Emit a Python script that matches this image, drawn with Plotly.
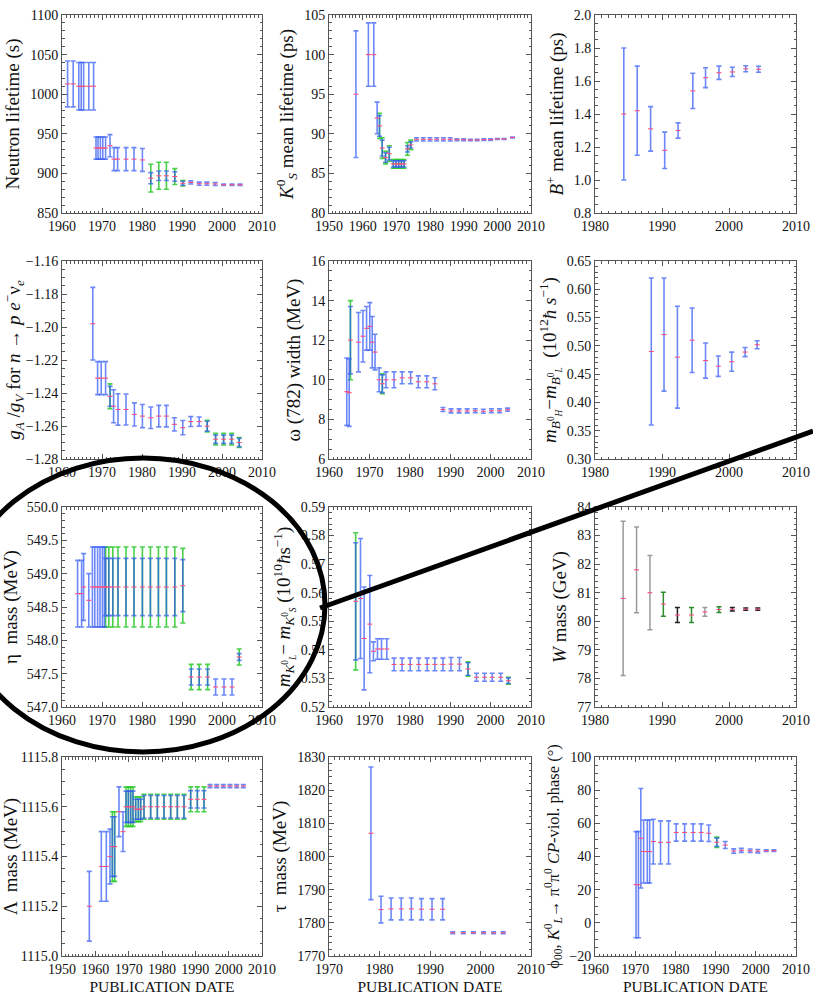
import plotly.graph_objects as go

# ---------------------------------------------------------------- data
# Neutron lifetime (s)
neutron_year = [1961.4, 1962.8, 1964.2, 1964.8, 1965.4, 1966.7, 1967.9, 1968.5, 1969.0, 1969.6,
                1970.2, 1970.9, 1972.0, 1973.0, 1973.9, 1976.0, 1978.0, 1980.1, 1982.2, 1984.2,
                1986.1, 1988.2, 1990.2, 1992.2, 1994.3, 1996.2, 1998.3, 2000.4, 2002.5, 2004.5]
neutron_val = [1013, 1013, 1010, 1010, 1010, 1010, 1010, 932, 932, 932,
               932, 932, 935, 918, 918, 918, 918, 917, 894, 897,
               897, 896, 887.5, 888.6, 887.0, 887.0, 886.7, 885.7, 885.7, 885.7]
neutron_err = [29, 29, 30, 30, 30, 30, 30, 14, 14, 14,
               14, 14, 14, 14.5, 14.5, 14.5, 14.5, 14.5, 7, 6,
               6, 6, 2.5, 2, 2, 2, 1.9, 0.8, 0.8, 0.8]
neutron_err_s = [0] * 18 + [17.5, 17, 17, 10, 3.5] + [0] * 7

# K0_S mean lifetime (ps)
ks_year = [1958.0, 1961.7, 1963.3, 1964.3, 1965.0, 1965.8, 1966.8, 1967.9, 1969.1, 1969.9,
           1970.7, 1971.5, 1972.3, 1973.3, 1974.3, 1976, 1978, 1980, 1982, 1984,
           1986, 1988, 1990, 1992, 1994, 1996, 1998, 2000, 2002, 2004.5]
ks_val = [95, 100, 100, 92, 91, 88.2, 87.0, 87.5, 86.2, 86.2,
          86.2, 86.2, 86.2, 88.1, 88.6, 89.3, 89.3, 89.3, 89.3, 89.3,
          89.3, 89.26, 89.26, 89.22, 89.22, 89.26, 89.26, 89.35, 89.35, 89.53]
ks_err = [8, 4, 4, 2, 1.3, 1.0, 0.6, 0.8, 0.4, 0.4,
          0.4, 0.4, 0.4, 0.4, 0.4, 0.2, 0.2, 0.2, 0.2, 0.2,
          0.2, 0.12, 0.12, 0.1, 0.1, 0.1, 0.1, 0.06, 0.06, 0.05]
ks_err_s = [0, 0, 0, 0, 1.6, 1.3, 0.8, 1.0, 0.55, 0.55,
            0.55, 0.55, 0.55, 0.8, 0.6] + [0] * 15

# B+ mean lifetime (ps)
bp_year = [1984.3, 1986.3, 1988.3, 1990.4, 1992.4, 1994.6, 1996.5, 1998.5, 2000.5, 2002.5, 2004.4]
bp_val = [1.40, 1.42, 1.31, 1.18, 1.30, 1.54, 1.62, 1.65, 1.655, 1.674, 1.671]
bp_err = [0.40, 0.27, 0.135, 0.11, 0.046, 0.107, 0.06, 0.04, 0.028, 0.018, 0.018]

# gA/gV for neutron beta decay
ga_year = [1967.7, 1968.9, 1969.8, 1970.9, 1972.0, 1972.9, 1974.0, 1976.0, 1978.1, 1980.1,
           1982.2, 1984.2, 1986.1, 1988.1, 1990.2, 1992.2, 1994.3, 1996.3, 1998.4, 2000.4,
           2002.4, 2004.3]
ga_val = [-1.198, -1.231, -1.231, -1.231, -1.242, -1.248, -1.250, -1.250, -1.253, -1.254,
          -1.255, -1.254, -1.254, -1.259, -1.261, -1.2573, -1.2573, -1.2601, -1.268, -1.268,
          -1.268, -1.270]
ga_err = [0.022, 0.010, 0.010, 0.010, 0.006, 0.010, 0.0095, 0.0094, 0.007, 0.007,
          0.0065, 0.0065, 0.0065, 0.004, 0.0043, 0.003, 0.0028, 0.003, 0.0025, 0.0025,
          0.0025, 0.0025]
ga_err_s = [0, 0, 0, 0, 0.0075] + [0] * 12 + [0.0035, 0.0035, 0.0035, 0.0035, 0.003]

# omega(782) width (MeV)
om_year = [1964.4, 1965.0, 1965.3, 1967.3, 1968.4, 1969.3, 1970.1, 1970.7, 1971.4, 1972.4,
           1973.2, 1974.1, 1976.1, 1978.1, 1980.2, 1982.1, 1984.2, 1986.2, 1988.2, 1990.2,
           1992.2, 1994.2, 1996.2, 1998.2, 2000.2, 2002.2, 2004.2]
om_val = [9.4, 9.35, 12.0, 11.9, 12.2, 12.6, 12.7, 11.9, 11.4, 10.0,
          9.8, 10.0, 10.0, 10.1, 10.1, 9.9, 9.9, 9.8, 8.5, 8.43,
          8.43, 8.43, 8.44, 8.41, 8.44, 8.44, 8.49]
om_err = [1.7, 1.7, 1.7, 1.5, 1.3, 1.1, 1.2, 1.3, 0.9, 0.6,
          0.45, 0.4, 0.4, 0.3, 0.3, 0.3, 0.3, 0.3, 0.1, 0.1,
          0.1, 0.1, 0.1, 0.1, 0.1, 0.1, 0.08]
om_err_s = [0, 0, 2.0] + [0] * 7 + [0.5] + [0] * 16

# B0 mass difference (10^12 hbar/s)
bd_year = [1988.4, 1990.3, 1992.3, 1994.5, 1996.5, 1998.4, 2000.4, 2002.4, 2004.2]
bd_val = [0.49, 0.52, 0.48, 0.51, 0.474, 0.464, 0.472, 0.489, 0.502]
bd_err = [0.13, 0.10, 0.09, 0.057, 0.031, 0.018, 0.017, 0.008, 0.007]

# eta mass (MeV)
eta_year = [1963.9, 1964.9, 1965.4, 1966.7, 1967.6, 1968.2, 1968.9, 1969.5, 1970.1, 1970.6,
            1970.9, 1971.7, 1972.7, 1974.0, 1976.0, 1978.0, 1980.1, 1982.1, 1984.1, 1986.1,
            1988.2, 1990.2, 1992.3, 1994.3, 1996.4, 1998.4, 2000.5, 2002.5, 2004.3]
eta_val = [548.7, 548.7, 548.8, 548.6, 548.8, 548.8, 548.8, 548.8, 548.8, 548.8,
           548.8, 548.8, 548.8, 548.8, 548.8, 548.8, 548.8, 548.8, 548.8, 548.8,
           548.8, 548.82, 547.45, 547.45, 547.45, 547.3, 547.3, 547.3, 547.75]
eta_err = [0.5, 0.5, 0.5, 0.4, 0.6, 0.6, 0.6, 0.6, 0.6, 0.6,
           0.43, 0.43, 0.43, 0.43, 0.43, 0.43, 0.43, 0.43, 0.43, 0.43,
           0.43, 0.39, 0.12, 0.12, 0.12, 0.12, 0.12, 0.12, 0.05]
eta_err_s = [0] * 10 + [0.6] * 11 + [0.56, 0.19, 0.19, 0.19, 0, 0, 0, 0.12]

# K0 mass difference (10^10 hbar/s)
kd_year = [1966.6, 1967.8, 1968.7, 1970.1, 1971.0, 1972.0, 1973.0, 1974.3, 1976.1, 1978.1,
           1980.1, 1982.2, 1984.3, 1986.2, 1988.2, 1990.2, 1992.3, 1994.4, 1996.5, 1998.5,
           2000.4, 2002.5, 2004.4]
kd_val = [0.557, 0.558, 0.544, 0.549, 0.5395, 0.5403, 0.5403, 0.5403, 0.5349, 0.5349,
          0.5349, 0.5349, 0.5349, 0.5349, 0.5349, 0.535, 0.535, 0.5333, 0.5304, 0.5304,
          0.5304, 0.5304, 0.5292]
kd_err = [0.0205, 0.021, 0.018, 0.017, 0.0033, 0.0036, 0.0036, 0.0036, 0.0022, 0.0022,
          0.0022, 0.0022, 0.0022, 0.0022, 0.0022, 0.0023, 0.0023, 0.0022, 0.0014, 0.0014,
          0.0014, 0.0014, 0.001]
kd_err_s = [0.024] + [0] * 16 + [0.0025] + [0] * 4 + [0.0012]

# W mass (GeV)
w_year = [1984.2, 1986.2, 1988.2, 1990.2, 1992.3, 1994.4, 1996.4, 1998.5, 2000.5, 2002.5, 2004.3]
w_val = [80.8, 81.8, 81.0, 80.6, 80.22, 80.22, 80.33, 80.41, 80.42, 80.423, 80.425]
w_err = [2.7, 1.5, 1.3, 0.42, 0.26, 0.26, 0.15, 0.10, 0.06, 0.039, 0.038]

# Lambda mass (MeV)
lam_year = [1958.2, 1961.8, 1963.3, 1964.4, 1965.1, 1965.8, 1967.1, 1968.3, 1969.2, 1969.9,
            1970.6, 1971.3, 1972.1, 1972.9, 1973.6, 1974.6, 1976.6, 1978.6, 1980.6, 1982.6,
            1984.6, 1986.6, 1988.6, 1990.6, 1992.6, 1994.4, 1996.4, 1998.4, 2000.4, 2002.4,
            2004.4]
lam_val = [1115.20, 1115.36, 1115.36, 1115.40, 1115.44, 1115.44, 1115.58, 1115.50, 1115.60, 1115.60,
           1115.60, 1115.60, 1115.59, 1115.59, 1115.59, 1115.60, 1115.60, 1115.60, 1115.60, 1115.60,
           1115.60, 1115.60, 1115.63, 1115.63, 1115.63, 1115.683, 1115.683, 1115.683, 1115.683, 1115.683,
           1115.683]
lam_err = [0.14, 0.14, 0.14, 0.11, 0.12, 0.12, 0.10, 0.08, 0.063, 0.063,
           0.063, 0.063, 0.04, 0.04, 0.04, 0.045, 0.045, 0.045, 0.045, 0.045,
           0.045, 0.045, 0.035, 0.035, 0.035, 0.006, 0.006, 0.006, 0.006, 0.006,
           0.006]
lam_err_s = [0, 0, 0, 0, 0.14, 0.14, 0, 0, 0.079, 0.079,
             0.079, 0.079, 0.05, 0.05, 0.05, 0.05, 0.05, 0.05, 0.05, 0.05,
             0.05, 0.05, 0.05, 0.05, 0.05] + [0] * 6

# tau mass (MeV)
tau_year = [1978.3, 1980.3, 1982.3, 1984.3, 1986.3, 1988.3, 1990.4, 1992.5, 1994.5, 1996.6,
            1998.6, 2000.6, 2002.6, 2004.5]
tau_val = [1807, 1784.0, 1784.2, 1784.2, 1784.2, 1784.1, 1784.1, 1784.1, 1777.0, 1777.0,
           1777.05, 1776.99, 1776.99, 1776.99]
tau_err = [20, 4, 3.3, 3.3, 3.3, 3.2, 3.2, 3.2, 0.3, 0.3, 0.28, 0.28, 0.29, 0.29]

# phi_00 CP-violating phase (degrees)
phi_year = [1970.2, 1970.8, 1971.4, 1972.1, 1973.0, 1973.6, 1974.5, 1976.3, 1978.3, 1980.2,
            1982.3, 1984.4, 1986.4, 1988.3, 1990.3, 1992.4, 1994.5, 1996.4, 1998.6, 2000.5,
            2002.6, 2004.5]
phi_val = [23, 23, 51, 43, 43, 43, 49, 48.5, 48.5, 54.5,
           54.5, 54.5, 54.5, 54.0, 48.6, 46.9, 43.3, 43.7, 43.5, 43.2,
           43.5, 43.5]
phi_err = [32, 32, 30, 19, 19, 19, 13.5, 13, 13, 5.2,
           5.2, 5.2, 5.2, 5.0, 2.5, 2.1, 1.3, 1.2, 1.0, 1.0,
           0.5, 0.5]
phi_err_s = [0] * 14 + [3.1] + [0] * 7

# ---------------------------------------------------------------- styling
FONT = "Liberation Serif, Times New Roman, serif"
BLUE = "rgba(45,85,245,0.7)"
GREEN = "rgba(40,200,40,0.85)"
PINK = "#ff4d7a"
FRAME = "#555555"
W_BAR_COLORS = ["#9a9a9a", "#9a9a9a", "#9a9a9a", "#2e8b2e", "#222222", "#2e8b2e",
                "#9a9a9a", "#2e8b2e", "#222222", "#222222", "#222222"]

W_PX, H_PX = 813, 995
COLS = [(62, 262), (329, 531), (595, 796)]
ROWS = [(15, 213), (261, 459), (507, 707), (757, 956)]

panels = [
    dict(x=neutron_year, y=neutron_val, e=neutron_err, es=neutron_err_s,
         xr=[1960, 2010], yr=[850, 1100], dy=50, my=10, fmt="d",
         title="Neutron lifetime (s)"),
    dict(x=ks_year, y=ks_val, e=ks_err, es=ks_err_s,
         xr=[1950, 2010], yr=[80, 105], dy=5, my=1, fmt="d",
         title="<i>K</i><sup>0</sup><sub><i>S</i></sub> mean lifetime (ps)"),
    dict(x=bp_year, y=bp_val, e=bp_err, es=None,
         xr=[1980, 2010], yr=[0.8, 2.0], dy=0.2, my=0.05, fmt=".1f",
         title="<i>B</i><sup>+</sup> mean lifetime (ps)"),
    dict(x=ga_year, y=ga_val, e=ga_err, es=ga_err_s,
         xr=[1960, 2010], yr=[-1.28, -1.16], dy=0.02, my=0.005, fmt=".2f",
         title="<i>g<sub>A</sub></i> /<i>g<sub>V</sub></i> for <i>n</i> → <i>p e</i><sup>−</sup>ν<sub><i>e</i></sub>"),
    dict(x=om_year, y=om_val, e=om_err, es=om_err_s,
         xr=[1960, 2010], yr=[6, 16], dy=2, my=0.5, fmt="d",
         title="ω (782) width (MeV)"),
    dict(x=bd_year, y=bd_val, e=bd_err, es=None,
         xr=[1980, 2010], yr=[0.30, 0.65], dy=0.05, my=0.01, fmt=".2f",
         title="<i>m</i><sub><i>B</i><sup>0</sup><sub><i>H</i></sub></sub>−<i>m</i><sub><i>B</i><sup>0</sup><sub><i>L</i></sub></sub>  (10<sup>12</sup><i>ħ s</i><sup>−1</sup>)"),
    dict(x=eta_year, y=eta_val, e=eta_err, es=eta_err_s,
         xr=[1960, 2010], yr=[547.0, 550.0], dy=0.5, my=0.1, fmt=".1f",
         title="η  mass (MeV)"),
    dict(x=kd_year, y=kd_val, e=kd_err, es=kd_err_s,
         xr=[1960, 2010], yr=[0.52, 0.59], dy=0.01, my=0.002, fmt=".2f",
         title="<i>m</i><sub><i>K</i><sup>0</sup><sub><i>L</i></sub></sub>− <i>m</i><sub><i>K</i><sup>0</sup><sub><i>S</i></sub></sub> (10<sup>10</sup><i>ħ</i>s<sup>−1</sup>)"),
    dict(x=w_year, y=w_val, e=w_err, es=None, colors=W_BAR_COLORS,
         xr=[1980, 2010], yr=[77, 84], dy=1, my=0.2, fmt="d",
         title="<i>W</i> mass (GeV)"),
    dict(x=lam_year, y=lam_val, e=lam_err, es=lam_err_s,
         xr=[1950, 2010], yr=[1115.0, 1115.8], dy=0.2, my=0.05, fmt=".1f",
         title="Λ  mass (MeV)"),
    dict(x=tau_year, y=tau_val, e=tau_err, es=None,
         xr=[1970, 2010], yr=[1770, 1830], dy=10, my=2, fmt="d",
         title="τ  mass (MeV)"),
    dict(x=phi_year, y=phi_val, e=phi_err, es=phi_err_s,
         xr=[1960, 2010], yr=[-20, 100], dy=20, my=5, fmt="d", tsize=16.5,
         title="ϕ<sub>00</sub>, <i>K</i><sup>0</sup><sub><i>L</i></sub>→ π<sup>0</sup>π<sup>0</sup> <i>CP</i>-viol. phase (°)"),
]

fig = go.Figure()
layout = {}


def bar_trace(xs, ys, es, color, xa, ya, thickness, show_marker):
    return go.Scatter(
        x=xs, y=ys, xaxis=xa, yaxis=ya, mode="markers",
        marker=dict(symbol="line-ew", size=3.5 if show_marker else 1,
                    color=PINK,
                    line=dict(color=PINK if show_marker else "rgba(0,0,0,0)", width=1.1)),
        error_y=dict(type="data", array=es, visible=True, color=color,
                     thickness=thickness, width=2.5),
        hoverinfo="skip", showlegend=False,
    )


for i, p in enumerate(panels):
    n = i + 1
    r, c = divmod(i, 3)
    xa, ya = f"x{n}", f"y{n}"
    x0, x1 = COLS[c]
    y0, y1 = ROWS[r]
    dom_x = [x0 / W_PX, x1 / W_PX]
    dom_y = [1 - y1 / H_PX, 1 - y0 / H_PX]

    # scale-factor-enlarged errors, drawn underneath
    if p["es"]:
        sx = [xv for xv, s in zip(p["x"], p["es"]) if s > 0]
        sy = [yv for yv, s in zip(p["y"], p["es"]) if s > 0]
        se = [s for s in p["es"] if s > 0]
        fig.add_trace(bar_trace(sx, sy, se, GREEN, xa, ya, 1.6, False))

    if "colors" in p:
        for col in dict.fromkeys(p["colors"]):
            idx = [k for k, cc in enumerate(p["colors"]) if cc == col]
            fig.add_trace(bar_trace([p["x"][k] for k in idx], [p["y"][k] for k in idx],
                                    [p["e"][k] for k in idx], col, xa, ya, 1.5, True))
    else:
        fig.add_trace(bar_trace(p["x"], p["y"], p["e"], BLUE, xa, ya, 1.6, True))

    common = dict(showline=True, linecolor=FRAME, linewidth=1, mirror="ticks",
                  ticks="inside", ticklen=5, tickcolor=FRAME, showgrid=False,
                  zeroline=False, tickfont=dict(family=FONT, size=14, color="#111"),
                  automargin=False, fixedrange=True)
    xaxis = dict(common, domain=dom_x, anchor=ya, range=p["xr"], dtick=10,
                 tick0=1950, tickformat="d",
                 minor=dict(ticks="inside", ticklen=2.5, tickcolor=FRAME, dtick=1))
    if r == 3:
        xaxis["title"] = dict(text="PUBLICATION DATE",
                              font=dict(family=FONT, size=15.5, color="#111"), standoff=14)
    yaxis = dict(common, domain=dom_y, anchor=xa, range=p["yr"], dtick=p["dy"],
                 tick0=p["yr"][0], tickformat=p["fmt"],
                 minor=dict(ticks="inside", ticklen=2.5, tickcolor=FRAME, dtick=p["my"]),
                 title=dict(text=p["title"],
                            font=dict(family=FONT, size=p.get("tsize", 19), color="#111"),
                            standoff=5))
    key = "" if n == 1 else str(n)
    layout[f"xaxis{key}"] = xaxis
    layout[f"yaxis{key}"] = yaxis

# hand-drawn highlight: ellipse round the eta panel and a stroke off to the right
shapes = [
    dict(type="circle", xref="paper", yref="paper", layer="above",
         x0=(143 - 182) / W_PX, x1=(143 + 182) / W_PX,
         y0=1 - (605 + 147) / H_PX, y1=1 - (605 - 147) / H_PX,
         line=dict(color="black", width=5)),
    dict(type="line", xref="paper", yref="paper", layer="above",
         x0=320 / W_PX, y0=1 - 608 / H_PX, x1=1.0, y1=1 - 431 / H_PX,
         line=dict(color="black", width=5)),
]

fig.update_layout(
    width=W_PX, height=H_PX, margin=dict(l=0, r=0, t=0, b=0),
    paper_bgcolor="white", plot_bgcolor="white", showlegend=False,
    font=dict(family=FONT, color="#111"), shapes=shapes, **layout,
)

fig.write_html("out.html")
